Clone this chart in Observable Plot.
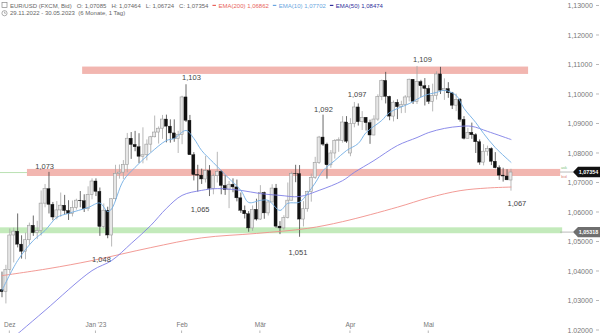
<!DOCTYPE html>
<html><head><meta charset="utf-8">
<script src="https://cdn.jsdelivr.net/npm/d3@7"></script>
<script src="https://cdn.jsdelivr.net/npm/@observablehq/plot@0.6"></script>
<style>
body{margin:0;background:#fff;}
#wrap{position:relative;width:600px;height:333px;overflow:hidden;}
#chart{position:absolute;left:0;top:0;}
#hdr{position:absolute;left:0;top:0;}
</style></head><body>
<div id="wrap"><div id="chart"></div><svg id="hdr" width="400" height="20"></svg></div>
<script>
// ---- daily candles EUR/USD 29.11.2022 – 30.05.2023 (trading-day index 0..130)
const open = [1.0337,1.0331,1.0405,1.0522,1.0535,1.0491,1.0467,1.0506,1.0555,1.0530,1.0537,1.0630,1.0679,1.0626,1.0583,1.0607,1.0623,1.0605,1.0595,1.0615,1.0640,1.0638,1.0611,1.0660,1.0705,1.0670,1.0551,1.0606,1.0522,1.0645,1.0731,1.0735,1.0761,1.0850,1.0829,1.0821,1.0789,1.0794,1.0830,1.0855,1.0871,1.0884,1.0915,1.0891,1.0868,1.0849,1.0862,1.0990,1.0911,1.0794,1.0727,1.0725,1.0712,1.0740,1.0680,1.0723,1.0738,1.0690,1.0676,1.0694,1.0685,1.0648,1.0606,1.0594,1.0546,1.0609,1.0576,1.0666,1.0597,1.0634,1.0681,1.0552,1.0546,1.0581,1.0640,1.0731,1.0730,1.0576,1.0611,1.0669,1.0717,1.0768,1.0854,1.0830,1.0760,1.0800,1.0843,1.0843,1.0905,1.0800,1.0900,1.0956,1.0906,1.0921,1.0903,1.0861,1.0915,1.0991,1.1046,1.0992,1.0925,1.0972,1.0957,1.0964,1.0990,1.1050,1.0975,1.1042,1.1028,1.1019,1.0975,1.0995,1.1068,1.1013,1.1018,1.1004,1.0962,1.0982,1.0914,1.0850,1.0870,1.0862,1.0838,1.0769,1.0806,1.0815,1.0772,1.0750,1.0725,1.0722,1.07085];
const high = [1.0398,1.0421,1.0544,1.0547,1.0595,1.0521,1.0530,1.0564,1.0588,1.0570,1.0673,1.0695,1.0736,1.0634,1.0637,1.0666,1.0658,1.0640,1.0639,1.0645,1.0671,1.0660,1.0687,1.0714,1.0714,1.0683,1.0629,1.0618,1.0646,1.0760,1.0761,1.0776,1.0868,1.0871,1.0875,1.0867,1.0887,1.0846,1.0858,1.0927,1.0890,1.0929,1.0930,1.0914,1.0914,1.0875,1.0994,1.1033,1.0929,1.0803,1.0760,1.0747,1.0790,1.0759,1.0730,1.0804,1.0742,1.0725,1.0705,1.0714,1.0710,1.0666,1.0622,1.0603,1.0622,1.0645,1.0691,1.0669,1.0640,1.0694,1.0695,1.0569,1.0589,1.0700,1.0737,1.0760,1.0759,1.0637,1.0672,1.0730,1.0787,1.0858,1.0930,1.0835,1.0810,1.0847,1.0853,1.0925,1.0925,1.0918,1.0973,1.0968,1.0942,1.0922,1.0913,1.0928,1.0999,1.1049,1.1075,1.0994,1.0978,1.0982,1.0977,1.0996,1.1052,1.1050,1.1095,1.1048,1.1054,1.1030,1.1035,1.1077,1.1092,1.1053,1.1040,1.1007,1.1001,1.0986,1.0925,1.0885,1.0903,1.0867,1.0846,1.0830,1.0825,1.0819,1.0803,1.0758,1.0750,1.0745,1.07464];
const low = [1.0311,1.0290,1.0391,1.0429,1.0480,1.0442,1.0440,1.0490,1.0519,1.0508,1.0520,1.0616,1.0595,1.0572,1.0575,1.0584,1.0592,1.0573,1.0585,1.0608,1.0616,1.0600,1.0603,1.0643,1.0654,1.0519,1.0544,1.0511,1.0483,1.0637,1.0713,1.0712,1.0735,1.0780,1.0806,1.0766,1.0765,1.0775,1.0802,1.0853,1.0832,1.0848,1.0836,1.0835,1.0838,1.0800,1.0830,1.0905,1.0796,1.0707,1.0669,1.0695,1.0700,1.0654,1.0660,1.0700,1.0660,1.0658,1.0613,1.0667,1.0636,1.0597,1.0578,1.0533,1.0536,1.0571,1.0573,1.0577,1.0588,1.0633,1.0546,1.0525,1.0540,1.0578,1.0639,1.0701,1.0516,1.0551,1.0601,1.0635,1.0712,1.0763,1.0824,1.0713,1.0750,1.0781,1.0804,1.0835,1.0834,1.0789,1.0887,1.0893,1.0878,1.0876,1.0831,1.0860,1.0909,1.0979,1.0968,1.0911,1.0907,1.0915,1.0935,1.0936,1.0975,1.0966,1.0966,1.0990,1.0961,1.0966,1.0941,1.0981,1.1000,1.0980,1.0987,1.0949,1.0942,1.0906,1.0846,1.0849,1.0848,1.0800,1.0760,1.0758,1.0791,1.0759,1.0748,1.0709,1.0703,1.0708,1.06724];
const close = [1.0330,1.0405,1.0522,1.0535,1.0491,1.0467,1.0506,1.0555,1.0530,1.0537,1.0630,1.0679,1.0626,1.0583,1.0607,1.0623,1.0605,1.0595,1.0615,1.0640,1.0638,1.0611,1.0660,1.0705,1.0670,1.0551,1.0606,1.0522,1.0645,1.0731,1.0735,1.0761,1.0850,1.0829,1.0821,1.0789,1.0794,1.0830,1.0855,1.0871,1.0884,1.0915,1.0891,1.0868,1.0849,1.0862,1.0990,1.0911,1.0794,1.0727,1.0725,1.0712,1.0740,1.0680,1.0723,1.0738,1.0690,1.0676,1.0694,1.0685,1.0648,1.0606,1.0594,1.0546,1.0609,1.0576,1.0666,1.0597,1.0634,1.0681,1.0552,1.0546,1.0581,1.0640,1.0731,1.0730,1.0576,1.0611,1.0669,1.0717,1.0768,1.0854,1.0830,1.0760,1.0800,1.0843,1.0845,1.0905,1.0840,1.0900,1.0956,1.0906,1.0921,1.0903,1.0861,1.0915,1.0991,1.1046,1.0992,1.0925,1.0972,1.0957,1.0964,1.0990,1.1050,1.0975,1.1042,1.1028,1.1019,1.0975,1.0995,1.1068,1.1013,1.1018,1.1004,1.0962,1.0982,1.0914,1.0850,1.0870,1.0862,1.0838,1.0769,1.0806,1.0815,1.0772,1.0750,1.0725,1.0722,1.0709,1.07354];

// ---- moving averages (trading-day index, value)
const ema10Idx = [0,4,8,11,14,17,22,25,27,28,31,34,38,42,44,47,49,51,54,56,58,61,63,66,68,71,73,76,78,80,82,85,88,91,93,97,99,104,108,111,113,116,118,121,123,126,130];
const ema10Val = [1.0336,1.0437,1.0505,1.0539,1.0583,1.0597,1.0617,1.0632,1.0603,1.0612,1.0708,1.0753,1.0803,1.0844,1.0851,1.0878,1.0851,1.0810,1.0769,1.0742,1.0715,1.0675,1.0634,1.0641,1.0641,1.0607,1.0631,1.0635,1.0664,1.0700,1.0742,1.0776,1.0810,1.0834,1.0871,1.0912,1.0939,1.0969,1.0997,1.1007,1.1014,1.0997,1.0953,1.0905,1.0868,1.0820,1.07702];
const ema50Idx = [2,5,11,23,28,33,38,42,46,51,55,61,66,71,76,81,87,90,95,101,106,109,113,117,120,124,130];
const ema50Val = [1.0166,1.0200,1.0268,1.0403,1.0437,1.0495,1.0556,1.0614,1.0658,1.0675,1.0681,1.0675,1.0664,1.0658,1.0654,1.0675,1.0708,1.0736,1.0776,1.0827,1.0854,1.0871,1.0885,1.0892,1.0892,1.0875,1.08474];
const ema200Idx = [0,12,23,38,51,65,78,87,101,109,117,124,130];
const ema200Val = [1.0386,1.0410,1.0437,1.0481,1.0514,1.0529,1.0546,1.0569,1.0618,1.0650,1.0674,1.0683,1.06862];

// ---- horizontal zones (price levels, trading-day extent)
const zoneKind  = ["resistance","resistance","support"];
const zoneLo    = [1.1068, 1.0722, 1.0528];
const zoneHi    = [1.1093, 1.0746, 1.0548];
const zoneStart = [20.6, 6.5, -0.4];
const zoneEnd   = [134.5, 142.7, 143.2];
const supportTag = 1.05318;

// ---- swing labels
const hiLblIdx = [10.9, 48.4, 82.1, 90.7, 107.4];
const hiLblVal = [1.073, 1.103, 1.092, 1.0973, 1.109];
const hiLblTxt = ["1,073","1,103","1,092","1,097","1,109"];
const loLblIdx = [25.4, 50.6, 75.6, 131.5];
const loLblVal = [1.048, 1.065, 1.0505, 1.067];
const loLblTxt = ["1,048","1,065","1,051","1,067"];

// ---- axes
const monthIdx = [2, 24, 46, 66, 89, 109];
const monthLabels = ["Dez", "Jan '23", "Feb", "Mär", "Apr", "Mai"];
const yTicks = [1.02,1.03,1.04,1.05,1.06,1.07,1.08,1.09,1.10,1.11,1.12,1.13];

const n = close.length;
const candles = d3.range(n).map(i => ({i, o: open[i], h: high[i], l: low[i], c: close[i]}));
const up = candles.filter(d => d.c >= d.o), dn = candles.filter(d => d.c < d.o);
const half = 0.39;
const lastClose = close[n - 1];
const zones = zoneKind.map((k, j) => ({k, lo: zoneLo[j], hi: zoneHi[j], a: zoneStart[j], b: zoneEnd[j]}));
const fmt = v => v.toFixed(5).replace(".", ",");
const FONT = "'Liberation Sans', Arial, sans-serif";

function sideDecor(index, scales, values, dim) {
  const Y = scales.y, X = scales.x;
  const right = dim.width - dim.marginRight;
  const g = d3.create("svg:g").attr("font-family", FONT);
  for (const t of yTicks) g.append("line").attr("x1", right + 36).attr("x2", right + 39)
      .attr("y1", Y(t)).attr("y2", Y(t)).attr("stroke", "#999").attr("stroke-width", 0.7);
  for (const m of monthIdx) g.append("line").attr("x1", X(m)).attr("x2", X(m))
      .attr("y1", dim.height - 2.5).attr("y2", dim.height).attr("stroke", "#999").attr("stroke-width", 0.7);
  const tag = (v, fill) => {
    const y = Y(v), x0 = right + 13;
    g.append("line").attr("x1", right).attr("x2", x0).attr("y1", y).attr("y2", y)
      .attr("stroke", "#aaa").attr("stroke-width", 0.8);
    g.append("path").attr("d", `M${x0},${y}L${x0 + 5},${y - 5.2}H${dim.width}V${y + 5.2}H${x0 + 5}Z`).attr("fill", fill);
    g.append("text").attr("x", x0 + 15.5).attr("y", y).attr("dy", "0.34em").attr("text-anchor", "middle")
      .attr("fill", "#fff").attr("font-size", 5.4).attr("font-weight", "bold").text(fmt(v));
  };
  tag(lastClose, "#111");
  tag(supportTag, "#6f6f6f");
  const yc = Y(lastClose);
  g.append("text").attr("x", right + 4).attr("y", yc - 3).attr("fill", "#7cc47c").attr("font-size", 4).text("ask");
  g.append("text").attr("x", right + 4).attr("y", yc + 6).attr("fill", "#e08080").attr("font-size", 4).text("bid");
  return g.node();
}

const chart = Plot.plot({
  width: 600, height: 333,
  marginTop: 0, marginBottom: 0, marginLeft: 0, marginRight: 40,
  x: {type: "linear", domain: [-0.38, 142.65], axis: null},
  y: {type: "linear", domain: [1.01898, 1.13186], axis: null},
  color: {domain: ["resistance", "support"], range: ["#f2b6b0", "#c3eabb"]},
  style: {fontFamily: FONT, background: "#fff", overflow: "visible"},
  marks: [
    Plot.ruleY([lastClose], {stroke: "#a9d9a0", strokeWidth: 0.8}),
    Plot.rect(zones, {x1: "a", x2: "b", y1: "lo", y2: "hi", fill: "k", clip: false}),
    Plot.ruleX(up, {x: "i", y1: "l", y2: "h", stroke: "#a6a6a6", strokeWidth: 0.8}),
    Plot.ruleX(dn, {x: "i", y1: "l", y2: "h", stroke: "#444", strokeWidth: 0.8}),
    Plot.rect(up, {x1: d => d.i - half, x2: d => d.i + half, y1: "o", y2: "c", fill: "#e6e6e6", stroke: "#9a9a9a", strokeWidth: 0.6}),
    Plot.rect(dn, {x1: d => d.i - half, x2: d => d.i + half, y1: "o", y2: "c", fill: "#111", stroke: "#111", strokeWidth: 0.4}),
    Plot.line(ema200Idx, {x: d => d, y: (d, i) => ema200Val[i], curve: "catmull-rom", stroke: "#f0908a", strokeWidth: 0.9, clip: true}),
    Plot.line(ema50Idx, {x: d => d, y: (d, i) => ema50Val[i], curve: "catmull-rom", stroke: "#7f7fe6", strokeWidth: 0.9, clip: true}),
    Plot.line(ema10Idx, {x: d => d, y: (d, i) => ema10Val[i], curve: "catmull-rom", stroke: "#72aee4", strokeWidth: 0.9, clip: true}),
    Plot.text(hiLblIdx, {x: d => d, y: (d, i) => hiLblVal[i], text: (d, i) => hiLblTxt[i], dy: -8, fontSize: 7.5, fill: "#444"}),
    Plot.text(loLblIdx, {x: d => d, y: (d, i) => loLblVal[i], text: (d, i) => loLblTxt[i], dy: 12, fontSize: 7.5, fill: "#444"}),
    Plot.text(monthIdx, {x: d => d, frameAnchor: "bottom", dy: -7, text: (d, i) => monthLabels[i], fontSize: 6.5, fill: "#777"}),
    Plot.axisY({anchor: "right", ticks: yTicks, tickSize: 0, tickPadding: 7, tickFormat: fmt, fontSize: 7, fill: "#777"}),
    sideDecor
  ]
});
document.getElementById("chart").appendChild(chart);

// ---- header (legend line), fields laid out one after another
const hdr = d3.select("#hdr").attr("font-family", FONT).attr("font-size", 6);
hdr.append("rect").attr("x", 2).attr("y", 2.5).attr("width", 5).attr("height", 5).attr("fill", "none").attr("stroke", "#888").attr("stroke-width", 0.7);
const fields = ["EUR/USD (FXCM, Bid)", `O: ${fmt(open[n-1])}`, `H: ${fmt(high[n-1])}`, `L: ${fmt(low[n-1])}`, `C: ${fmt(close[n-1])}`];
let cx = 10;
for (const f of fields) {
  const t = hdr.append("text").attr("x", cx).attr("y", 7.6).attr("fill", "#666").text(f);
  cx += t.node().getComputedTextLength() + 5;
}
cx -= 1;
const leg = [["EMA(200)", ema200Val, "#e8645c"], ["EMA(10)", ema10Val, "#6aa6e0"], ["EMA(50)", ema50Val, "#2f2f9a"]];
for (const [name, vals, col] of leg) {
  hdr.append("line").attr("x1", cx).attr("x2", cx + 3.5).attr("y1", 5.4).attr("y2", 5.4).attr("stroke", col).attr("stroke-width", 1.2);
  const t = hdr.append("text").attr("x", cx + 6).attr("y", 7.6).attr("fill", col).text(`${name} ${fmt(vals[vals.length - 1])}`);
  cx += 6 + t.node().getComputedTextLength() + 4;
}
hdr.append("circle").attr("cx", 4.5).attr("cy", 13.2).attr("r", 2.6).attr("fill", "none").attr("stroke", "#888").attr("stroke-width", 0.7);
hdr.append("path").attr("d", "M4.5,11.6V13.2H6").attr("fill", "none").attr("stroke", "#888").attr("stroke-width", 0.6);
hdr.append("text").attr("x", 10).attr("y", 15.4).attr("fill", "#666").attr("font-size", 6)
  .text("29.11.2022 - 30.05.2023  (6 Monate, 1 Tag)").attr("xml:space", "preserve");
</script>
</body></html>
